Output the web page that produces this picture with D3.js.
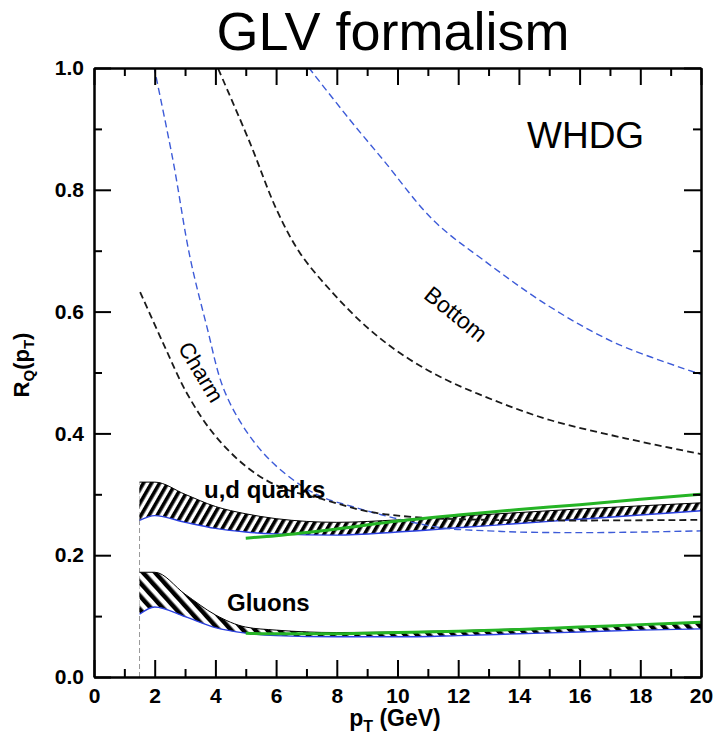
<!DOCTYPE html>
<html><head><meta charset="utf-8">
<script src="https://cdn.jsdelivr.net/npm/d3@7"></script>
<style>body{margin:0;background:#fff} svg{display:block}</style>
</head><body>
<script>
// ---- data ----
const xMajorTicks = [0,2,4,6,8,10,12,14,16,18,20];
const xMinorTicks = [1,3,5,7,9,11,13,15,17,19];
const yMajorTicks = [0,0.2,0.4,0.6,0.8,1.0];
const yMinorTicks = [0.1,0.3,0.5,0.7,0.9];

const bandPt      = [1.5, 2, 3, 4, 5, 6, 8, 10, 12, 14, 16, 18, 20];
const udTop       = [0.320,0.320,0.300,0.280,0.268,0.260,0.254,0.258,0.264,0.270,0.276,0.281,0.286];
const udBottom    = [0.257,0.265,0.254,0.244,0.238,0.235,0.233,0.238,0.245,0.252,0.259,0.266,0.273];
const gluonTop    = [0.172,0.172,0.136,0.102,0.082,0.077,0.073,0.074,0.076,0.079,0.082,0.086,0.089];
const gluonBottom = [0.103,0.115,0.099,0.081,0.072,0.068,0.066,0.066,0.068,0.071,0.074,0.077,0.079];

const greenPt     = [5, 6, 8, 10, 12, 14, 16, 18, 20];
const udGreen     = [0.228,0.232,0.243,0.256,0.266,0.275,0.283,0.292,0.300];
const gluonGreen  = [0.072,0.071,0.071,0.073,0.075,0.078,0.082,0.086,0.090];

const charmBluePt  = [1.90, 2.6, 3.16, 3.72, 4.25, 4.92, 5.8, 6.9, 7.6, 8.5, 9.5, 10.5, 11.6, 13, 14, 16, 18, 20];
const charmBlue    = [1.02, 0.849,0.690,0.575,0.476,0.411,0.356,0.312,0.294,0.280,0.266,0.254,0.244,0.240,0.238,0.237,0.238,0.240];
const charmBlackPt = [1.52, 2.28, 3.06, 3.93, 5.03, 6.12, 7.6, 9, 10.7, 13, 16, 20];
const charmBlack   = [0.632,0.548,0.466,0.400,0.345,0.312,0.291,0.272,0.262,0.258,0.257,0.258];
const bottomBlackPt= [3.95, 5.14, 6.02, 6.79, 7.88, 8.98, 10.08, 11.4, 13.15, 15.02, 17.5, 20];
const bottomBlack  = [1.015,0.877,0.767,0.696,0.630,0.575,0.532,0.493,0.455,0.422,0.392,0.366];
const bottomBluePt = [6.85, 8.43, 9.53, 11.18, 12.82, 15.02, 17.2, 20];
const bottomBlue   = [1.015,0.915,0.849,0.750,0.685,0.608,0.548,0.497];

const W = 719, H = 740;
const m = {left:94, right:18, top:68, bottom:63};

const svg = d3.select("body").append("svg").attr("width",W).attr("height",H)
  .style("font-family","'Liberation Sans', Arial, Helvetica, sans-serif");

const x = d3.scaleLinear().domain([0,20]).range([m.left, W-m.right]);
const y = d3.scaleLinear().domain([0,1]).range([H-m.bottom, m.top]);

const defs = svg.append("defs");
defs.append("clipPath").attr("id","clip").append("rect")
  .attr("x",x(0)).attr("y",y(1)).attr("width",x(20)-x(0)).attr("height",y(0)-y(1));

const pUD = defs.append("pattern").attr("id","hatchUD").attr("patternUnits","userSpaceOnUse")
  .attr("width",7).attr("height",7).attr("patternTransform","rotate(30)");
pUD.append("rect").attr("width",7).attr("height",7).attr("fill","#fff");
pUD.append("rect").attr("width",3.6).attr("height",7).attr("fill","#000");
const pG = defs.append("pattern").attr("id","hatchG").attr("patternUnits","userSpaceOnUse")
  .attr("width",9).attr("height",9).attr("patternTransform","rotate(-42)");
pG.append("rect").attr("width",9).attr("height",9).attr("fill","#fff");
pG.append("rect").attr("width",4.5).attr("height",9).attr("fill","#000");

const plot = svg.append("g").attr("clip-path","url(#clip)");

// vertical dashed line at pT = 1.5
plot.append("line").attr("x1",x(1.5)).attr("x2",x(1.5)).attr("y1",y(0)).attr("y2",y(0.32))
  .attr("stroke","#999").attr("stroke-width",1).attr("stroke-dasharray","5,3");

function band(top, bottom, fill){
  const d = bandPt.map((p,i)=>({p, t:top[i], b:bottom[i]}));
  plot.append("path").datum(d)
    .attr("d", d3.area().x(e=>x(e.p)).y0(e=>y(e.b)).y1(e=>y(e.t)).curve(d3.curveMonotoneX))
    .attr("fill", fill);
  plot.append("path").datum(d)
    .attr("d", d3.line().x(e=>x(e.p)).y(e=>y(e.t)).curve(d3.curveMonotoneX))
    .attr("fill","none").attr("stroke","#000").attr("stroke-width",1);
  plot.append("path").datum(d)
    .attr("d", d3.line().x(e=>x(e.p)).y(e=>y(e.b)).curve(d3.curveMonotoneX))
    .attr("fill","none").attr("stroke","#2a3fe0").attr("stroke-width",1.4);
}
band(udTop, udBottom, "url(#hatchUD)");
band(gluonTop, gluonBottom, "url(#hatchG)");

function dashed(pts, vals, color, w){
  const d = pts.map((p,i)=>[p, vals[i]]);
  plot.append("path").datum(d)
    .attr("d", d3.line().x(e=>x(e[0])).y(e=>y(e[1])).curve(d3.curveCatmullRom.alpha(0.5)))
    .attr("fill","none").attr("stroke",color).attr("stroke-width",w).attr("stroke-dasharray","7,4");
}
dashed(charmBluePt, charmBlue, "#3d5bd8", 1.4);
dashed(charmBlackPt, charmBlack, "#1a1a1a", 1.8);
dashed(bottomBlackPt, bottomBlack, "#1a1a1a", 1.8);
dashed(bottomBluePt, bottomBlue, "#3d5bd8", 1.4);

function green(vals){
  const d = greenPt.map((p,i)=>[p, vals[i]]);
  plot.append("path").datum(d)
    .attr("d", d3.line().x(e=>x(e[0])).y(e=>y(e[1])).curve(d3.curveMonotoneX))
    .attr("fill","none").attr("stroke","#25b425").attr("stroke-width",3);
}
green(udGreen);
green(gluonGreen);

// labels in plot
svg.append("text").attr("x",204).attr("y",498).attr("font-size",24).attr("font-weight","bold").text("u,d quarks");
svg.append("text").attr("x",227).attr("y",611).attr("font-size",24).attr("font-weight","bold").text("Gluons");
svg.append("text").attr("transform","translate(201,372) rotate(59)").attr("text-anchor","middle")
  .attr("dy","0.35em").attr("font-size",22).text("Charm");
svg.append("text").attr("transform","translate(456,314) rotate(39)").attr("text-anchor","middle")
  .attr("dy","0.35em").attr("font-size",23).text("Bottom");
svg.append("text").attr("x",527).attr("y",148).attr("font-size",37).text("WHDG");

// title
svg.append("text").attr("x",393).attr("y",50).attr("text-anchor","middle").attr("font-size",54).text("GLV formalism");

// axes
const fmtY = d3.format(".1f");
function styleAxis(g){
  g.selectAll("path.domain").attr("stroke","#000").attr("stroke-width",2);
  g.selectAll(".tick line").attr("stroke","#000").attr("stroke-width",2);
  g.selectAll("text").attr("font-size",21).attr("font-weight","bold").attr("fill","#000")
    .style("font-family","'Liberation Sans', Arial, Helvetica, sans-serif");
}
svg.append("g").attr("transform",`translate(0,${y(0)})`)
  .call(d3.axisBottom(x).tickValues(xMajorTicks).tickSize(-17).tickPadding(11).tickSizeOuter(0).tickFormat(d3.format("d"))).call(styleAxis);
svg.append("g").attr("transform",`translate(0,${y(0)})`)
  .call(d3.axisBottom(x).tickValues(xMinorTicks).tickSize(-8).tickSizeOuter(0).tickFormat("")).call(styleAxis);
svg.append("g").attr("transform",`translate(0,${y(1)})`)
  .call(d3.axisTop(x).tickValues(xMajorTicks).tickSize(-17).tickSizeOuter(0).tickFormat("")).call(styleAxis);
svg.append("g").attr("transform",`translate(0,${y(1)})`)
  .call(d3.axisTop(x).tickValues(xMinorTicks).tickSize(-8).tickSizeOuter(0).tickFormat("")).call(styleAxis);
svg.append("g").attr("transform",`translate(${x(0)},0)`)
  .call(d3.axisLeft(y).tickValues(yMajorTicks).tickSize(-17).tickPadding(10).tickSizeOuter(0).tickFormat(fmtY)).call(styleAxis);
svg.append("g").attr("transform",`translate(${x(0)},0)`)
  .call(d3.axisLeft(y).tickValues(yMinorTicks).tickSize(-8).tickSizeOuter(0).tickFormat("")).call(styleAxis);
svg.append("g").attr("transform",`translate(${x(20)},0)`)
  .call(d3.axisRight(y).tickValues(yMajorTicks).tickSize(-17).tickSizeOuter(0).tickFormat("")).call(styleAxis);
svg.append("g").attr("transform",`translate(${x(20)},0)`)
  .call(d3.axisRight(y).tickValues(yMinorTicks).tickSize(-8).tickSizeOuter(0).tickFormat("")).call(styleAxis);

// axis titles
const xt = svg.append("text").attr("x",395).attr("y",726).attr("text-anchor","middle")
  .attr("font-size",23).attr("font-weight","bold");
xt.append("tspan").text("p");
xt.append("tspan").attr("dy",6).attr("font-size",16).text("T");
xt.append("tspan").attr("dy",-6).text(" (GeV)");

const yt = svg.append("text").attr("transform","translate(29,365) rotate(-90)").attr("text-anchor","middle")
  .attr("font-size",22).attr("font-weight","bold");
yt.append("tspan").text("R");
yt.append("tspan").attr("dy",5).attr("font-size",15).text("Q");
yt.append("tspan").attr("dy",-5).text("(p");
yt.append("tspan").attr("dy",5).attr("font-size",15).text("T");
yt.append("tspan").attr("dy",-5).text(")");
</script>
</body></html>
